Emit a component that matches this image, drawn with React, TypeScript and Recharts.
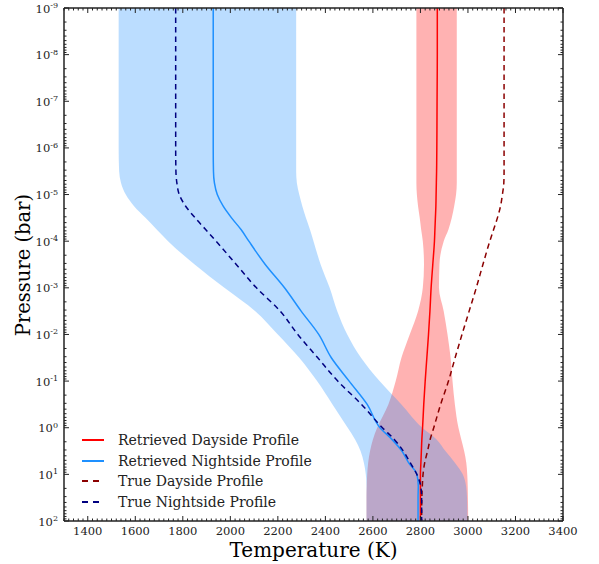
import React from 'react'
import { Area, ComposedChart, Line, XAxis, YAxis } from 'recharts'

// pressure levels, as log10(P / bar)
const LOG_P = [-9, -8, -7, -6, -5.5, -5.25, -5, -4.75, -4.5, -4.25, -4, -3.5, -3, -2.5, -2, -1.5, -1, -0.5, 0, 0.25, 0.5, 0.75, 1, 1.25, 1.5, 2]

// temperatures (K) at each level
const RET_DAY = [2871, 2871, 2870, 2869, 2868, 2867, 2866, 2865, 2863, 2861, 2859, 2852, 2845, 2840, 2834, 2827, 2820, 2814, 2809, 2806, 2804, 2802, 2800, 2800, 2800, 2800]
const DAY_LO = [2783, 2783, 2783, 2783, 2783, 2783, 2785, 2790, 2797, 2803, 2810, 2815, 2810, 2790, 2755, 2720, 2696, 2665, 2618, 2600, 2588, 2580, 2576, 2574, 2573, 2573]
const DAY_HI = [2953, 2953, 2953, 2953, 2953, 2953, 2950, 2942, 2932, 2918, 2898, 2880, 2878, 2898, 2914, 2927, 2935, 2945, 2960, 2972, 2984, 2993, 2997, 2999, 3000, 3001]
const RET_NIGHT = [1928, 1928, 1928, 1928, 1929, 1933, 1945, 1970, 2005, 2045, 2078, 2147, 2228, 2298, 2372, 2425, 2500, 2576, 2630, 2680, 2722, 2750, 2785, 2791, 2790, 2790]
const NIGHT_LO = [1530, 1530, 1530, 1530, 1532, 1540, 1560, 1595, 1643, 1690, 1738, 1850, 1975, 2105, 2200, 2290, 2365, 2430, 2494, 2525, 2548, 2562, 2570, 2573, 2573, 2573]
const NIGHT_HI = [2277, 2277, 2277, 2277, 2277, 2280, 2290, 2303, 2318, 2335, 2350, 2380, 2418, 2450, 2492, 2550, 2628, 2720, 2808, 2868, 2905, 2945, 2978, 2992, 2996, 2998]
const TRUE_DAY = [3152, 3152, 3152, 3152, 3152, 3151, 3145, 3137, 3124, 3108, 3092, 3063, 3035, 3005, 2975, 2946, 2918, 2885, 2856, 2841, 2830, 2818, 2811, 2808, 2806, 2805]
const TRUE_NIGHT = [1770, 1770, 1770, 1770, 1771, 1775, 1785, 1812, 1852, 1896, 1940, 2025, 2110, 2210, 2284, 2368, 2452, 2552, 2640, 2690, 2728, 2757, 2785, 2801, 2805, 2805]

const X_DOMAIN: [number, number] = [1300, 3400]
const Y_DECADES = [-9, -8, -7, -6, -5, -4, -3, -2, -1, 0, 1, 2]

const LEGEND = [
  { name: 'Retrieved Dayside Profile', color: '#ff0000', dashed: false },
  { name: 'Retrieved Nightside Profile', color: '#1e90ff', dashed: false },
  { name: 'True Dayside Profile', color: '#8b0000', dashed: true },
  { name: 'True Nightside Profile', color: '#000080', dashed: true },
]

const data = LOG_P.map((p, i) => ({
  logP: p,
  retDay: RET_DAY[i],
  retNight: RET_NIGHT[i],
  trueDay: TRUE_DAY[i],
  trueNight: TRUE_NIGHT[i],
  dayBand: [DAY_LO[i], DAY_HI[i]],
  nightBand: [NIGHT_LO[i], NIGHT_HI[i]],
}))

// minor ticks every 20 K, log minor ticks 2..9 per decade
const xTicks: number[] = []
for (let t = X_DOMAIN[0]; t <= X_DOMAIN[1]; t += 20) xTicks.push(t)
const yTicks: number[] = []
for (const n of Y_DECADES.slice(0, -1)) {
  for (let k = 1; k <= 9; k++) yTicks.push(n + Math.log10(k))
}
yTicks.push(Y_DECADES[Y_DECADES.length - 1])

const FONT = '"DejaVu Serif", serif'
const AXIS_COLOR = '#222'
const TEXT_COLOR = '#222'
const TICK_FONT = 11.5
const GAP = 6
const MAJOR_LEN = 5
const MINOR_LEN = 2.5
const DASH = '5.5 4'

const isMajorX = (v: number) => v % 200 === 0
const isMajorY = (v: number) => Number.isInteger(v)

function BottomTick({ x, y, payload }: any) {
  const v = payload.value
  const major = isMajorX(v)
  const ay = y - GAP
  return (
    <g>
      <line x1={x} x2={x} y1={ay} y2={ay - (major ? MAJOR_LEN : MINOR_LEN)} stroke={AXIS_COLOR} />
      {major && (
        <text x={x} y={ay + 14} textAnchor="middle" fontSize={TICK_FONT} fontFamily={FONT} fill={TEXT_COLOR}>
          {v}
        </text>
      )}
    </g>
  )
}

function TopTick({ x, y, payload }: any) {
  const major = isMajorX(payload.value)
  const ay = y + GAP
  return <line x1={x} x2={x} y1={ay} y2={ay + (major ? MAJOR_LEN : MINOR_LEN)} stroke={AXIS_COLOR} />
}

function LeftTick({ x, y, payload }: any) {
  const v = payload.value
  const major = isMajorY(v)
  const ax = x + GAP
  return (
    <g>
      <line x1={ax} x2={ax + (major ? MAJOR_LEN : MINOR_LEN)} y1={y} y2={y} stroke={AXIS_COLOR} />
      {major && (
        <text x={x} y={y + 4.5} textAnchor="end" fontSize={TICK_FONT} fontFamily={FONT} fill={TEXT_COLOR}>
          10
          <tspan dy={-4.5} fontSize={8}>
            {v}
          </tspan>
        </text>
      )}
    </g>
  )
}

function RightTick({ x, y, payload }: any) {
  const major = isMajorY(payload.value)
  const ax = x - GAP
  return <line x1={ax} x2={ax - (major ? MAJOR_LEN : MINOR_LEN)} y1={y} y2={y} stroke={AXIS_COLOR} />
}

function LegendBox() {
  return (
    <div style={{ position: 'absolute', left: 82, top: 430, fontFamily: FONT, fontSize: 14, color: TEXT_COLOR }}>
      {LEGEND.map((item) => (
        <div key={item.name} style={{ display: 'flex', alignItems: 'center', height: 20.5 }}>
          <svg width={22} height={4} style={{ marginRight: 14 }}>
            <line
              x1={0}
              x2={22}
              y1={2}
              y2={2}
              stroke={item.color}
              strokeWidth={2}
              strokeDasharray={item.dashed ? '6 5' : undefined}
            />
          </svg>
          <span style={{ whiteSpace: 'nowrap' }}>{item.name}</span>
        </div>
      ))}
    </div>
  )
}

export default function App() {
  const axisLine = { stroke: AXIS_COLOR, strokeWidth: 1.5 }
  return (
    <div style={{ position: 'absolute', left: 0, top: 0, width: 599, height: 564, background: '#fff' }}>
      <ComposedChart
        width={599}
        height={564}
        data={data}
        layout="vertical"
        margin={{ top: 7, right: 35, bottom: 0, left: 0 }}
      >
        <XAxis
          type="number"
          dataKey="retDay"
          domain={X_DOMAIN}
          ticks={xTicks}
          interval={0}
          allowDataOverflow
          height={43}
          tickLine={false}
          tickSize={0}
          tickMargin={GAP}
          axisLine={axisLine}
          tick={(p: any) => <BottomTick {...p} />}
        />
        <XAxis
          xAxisId="top"
          orientation="top"
          type="number"
          dataKey="retDay"
          domain={X_DOMAIN}
          ticks={xTicks}
          interval={0}
          allowDataOverflow
          height={1}
          tickLine={false}
          tickSize={0}
          tickMargin={GAP}
          axisLine={axisLine}
          tick={(p: any) => <TopTick {...p} />}
        />
        <YAxis
          type="number"
          dataKey="logP"
          domain={[-9, 2]}
          ticks={yTicks}
          interval={0}
          allowDataOverflow
          width={64}
          tickLine={false}
          tickSize={0}
          tickMargin={GAP}
          axisLine={axisLine}
          tick={(p: any) => <LeftTick {...p} />}
        />
        <YAxis
          yAxisId="right"
          orientation="right"
          type="number"
          dataKey="logP"
          domain={[-9, 2]}
          ticks={yTicks}
          interval={0}
          allowDataOverflow
          width={1}
          tickLine={false}
          tickSize={0}
          tickMargin={GAP}
          axisLine={axisLine}
          tick={(p: any) => <RightTick {...p} />}
        />
        <Area
          dataKey="dayBand"
          type="monotone"
          fill="#ff0000"
          fillOpacity={0.3}
          stroke="none"
          isAnimationActive={false}
        />
        <Area
          dataKey="nightBand"
          type="monotone"
          fill="#1e90ff"
          fillOpacity={0.3}
          stroke="none"
          isAnimationActive={false}
        />
        <Line dataKey="retDay" type="monotone" stroke="#ff0000" strokeWidth={1.5} dot={false} isAnimationActive={false} />
        <Line dataKey="retNight" type="monotone" stroke="#1e90ff" strokeWidth={1.5} dot={false} isAnimationActive={false} />
        <Line
          dataKey="trueDay"
          type="monotone"
          stroke="#8b0000"
          strokeWidth={1.5}
          strokeDasharray={DASH}
          dot={false}
          isAnimationActive={false}
        />
        <Line
          dataKey="trueNight"
          type="monotone"
          stroke="#000080"
          strokeWidth={1.5}
          strokeDasharray={DASH}
          dot={false}
          isAnimationActive={false}
        />
        {/* invisible series so the top and right frame axes get drawn */}
        <Line
          xAxisId="top"
          yAxisId="right"
          dataKey="retDay"
          stroke="none"
          strokeOpacity={0}
          dot={false}
          activeDot={false}
          legendType="none"
          isAnimationActive={false}
        />
      </ComposedChart>
      <LegendBox />
      <div
        style={{
          position: 'absolute',
          left: 0,
          top: 538,
          width: 599,
          paddingLeft: 28,
          boxSizing: 'border-box',
          textAlign: 'center',
          fontFamily: FONT,
          fontSize: 20,
          color: '#000',
        }}
      >
        Temperature (K)
      </div>
      <div
        style={{
          position: 'absolute',
          left: 23,
          top: 265,
          transform: 'translate(-50%, -50%) rotate(-90deg)',
          fontFamily: FONT,
          fontSize: 19.5,
          color: '#000',
          whiteSpace: 'nowrap',
        }}
      >
        Pressure (bar)
      </div>
    </div>
  )
}
